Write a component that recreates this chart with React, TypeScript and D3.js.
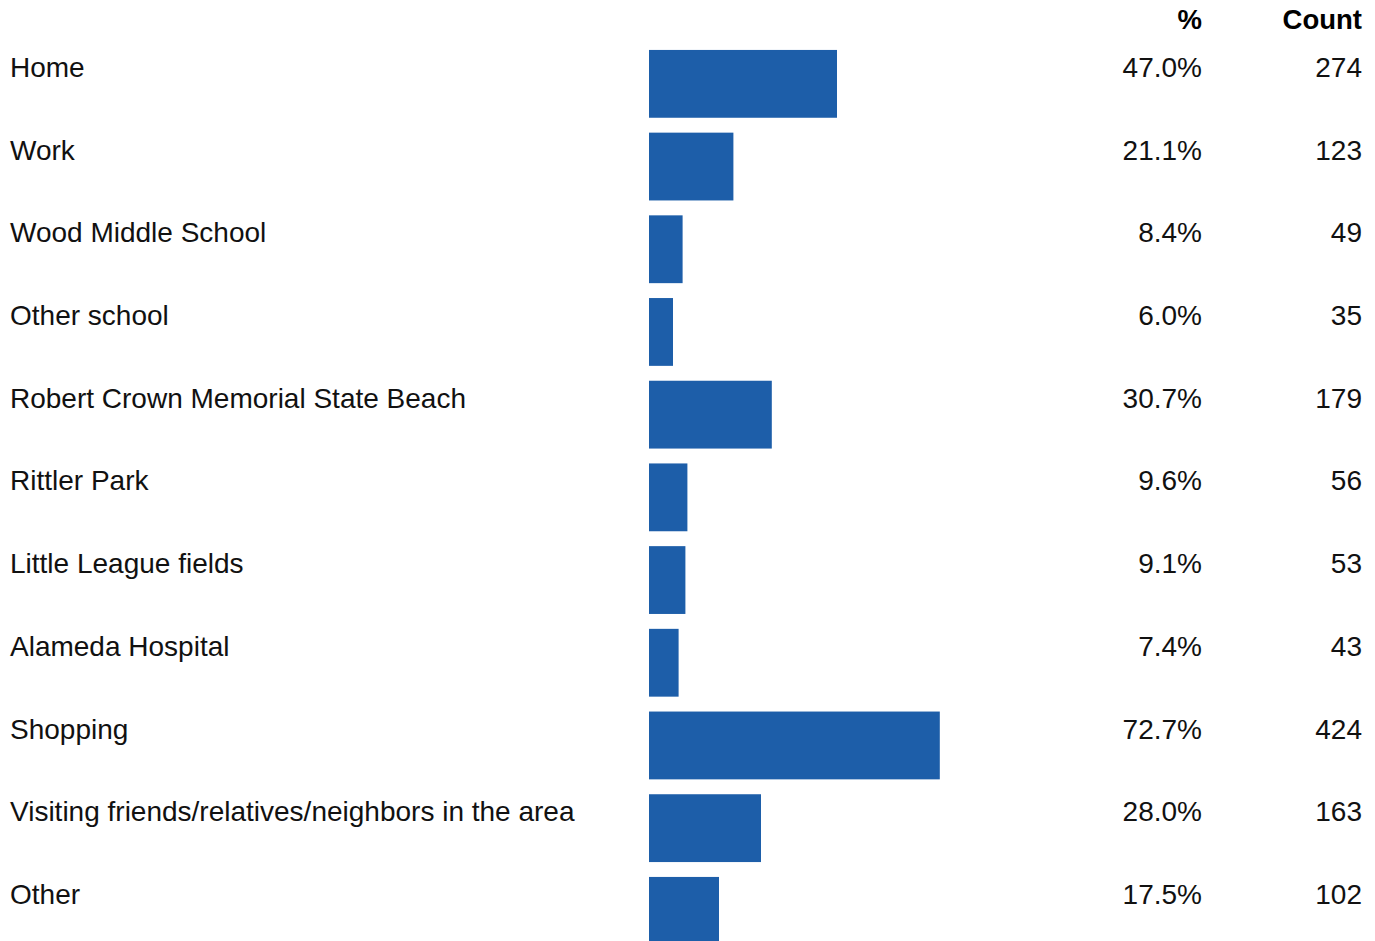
import { useEffect, useRef } from 'react';
import * as d3 from 'd3';

const categories = [
  'Home',
  'Work',
  'Wood Middle School',
  'Other school',
  'Robert Crown Memorial State Beach',
  'Rittler Park',
  'Little League fields',
  'Alameda Hospital',
  'Shopping',
  'Visiting friends/relatives/neighbors in the area',
  'Other',
];
const percents = [47.0, 21.1, 8.4, 6.0, 30.7, 9.6, 9.1, 7.4, 72.7, 28.0, 17.5];
const counts = [274, 123, 49, 35, 179, 56, 53, 43, 424, 163, 102];
const headers = ['%', 'Count'];

const W = 1375;
const H = 941;
const FONT = '"Liberation Sans", Arial, sans-serif';
const BAR = '#1d5ea9';

export default function App() {
  const svgRef = useRef<SVGSVGElement>(null);

  useEffect(() => {
    if (!svgRef.current) return;
    const svg = d3.select(svgRef.current);
    svg.selectAll('*').remove();

    const rows = categories.map((c, i) => ({ label: c, pct: percents[i], count: counts[i] }));

    const step = 82.7;
    const y = d3.scaleBand()
      .domain(categories)
      .range([42.5, 42.5 + step * categories.length])
      .paddingInner(0.18)
      .paddingOuter(0.09);

    const x = d3.scaleLinear().domain([0, 100]).range([649, 1049]);

    const pctX = 1202;
    const countX = 1362;

    // column headers
    svg.selectAll('.hdr')
      .data(headers)
      .enter().append('text')
      .attr('x', (d, i) => (i === 0 ? pctX : countX))
      .attr('y', 29)
      .attr('text-anchor', 'end')
      .style('font-family', FONT)
      .style('font-size', '27.5px')
      .style('font-weight', 700)
      .style('fill', '#000')
      .text(d => d);

    const g = svg.append('g');

    g.selectAll('.bar')
      .data(rows)
      .enter().append('rect')
      .attr('x', x(0))
      .attr('y', d => y(d.label) || 0)
      .attr('width', d => x(d.pct) - x(0))
      .attr('height', y.bandwidth())
      .attr('fill', BAR);

    const baseline = (d: { label: string }) => (y(d.label) || 0) + 27;

    const txt = (cls: string, xPos: number, anchor: string, fn: (d: any) => string) =>
      g.selectAll('.' + cls)
        .data(rows)
        .enter().append('text')
        .attr('class', cls)
        .attr('x', xPos)
        .attr('y', baseline)
        .attr('text-anchor', anchor)
        .style('font-family', FONT)
        .style('font-size', '28px')
        .style('fill', '#111')
        .text(fn);

    txt('lbl', 10, 'start', d => d.label);
    txt('pct', pctX, 'end', d => d.pct.toFixed(1) + '%');
    txt('cnt', countX, 'end', d => String(d.count));
  }, []);

  return (
    <svg
      ref={svgRef}
      width={W}
      height={H}
      style={{ position: 'absolute', left: 0, top: 0, display: 'block', background: '#fff' }}
    />
  );
}
